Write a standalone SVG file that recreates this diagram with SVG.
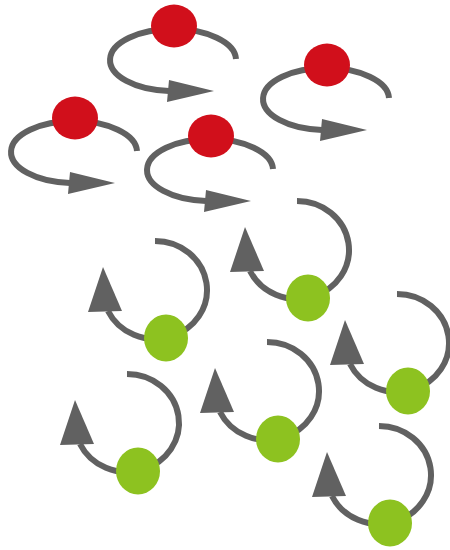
<svg xmlns="http://www.w3.org/2000/svg" xmlns:xlink="http://www.w3.org/1999/xlink" width="450" height="550" viewBox="0 0 450 550">
  <style>
    .arc { fill: none; stroke: #616161; stroke-width: 6; }
    .head { fill: #616161; }
    .red { fill: #d10f1b; }
    .green { fill: #8dc220; }
  </style>
  <defs>
    <g id="redUnit">
      <path class="arc" d="M 62 33 A 63 31 0 1 0 -5 65"/>
      <polygon class="head" points="-5,54 -7,76 40,65"/>
      <ellipse class="red" cx="0" cy="0" rx="23" ry="21.5"/>
    </g>
    <g id="greenUnit">
      <path class="arc" d="M -11 -97 A 52 49 0 1 1 -58 -27"/>
      <polygon class="head" points="-63,-71 -78,-26 -44,-27"/>
      <ellipse class="green" cx="0" cy="0" rx="22" ry="23.5"/>
    </g>
  </defs>
  <rect width="450" height="550" fill="#ffffff"/>
  <g id="red-1"><use xlink:href="#redUnit" href="#redUnit" x="174" y="26"/></g>
  <g id="red-2"><use xlink:href="#redUnit" href="#redUnit" x="327" y="65"/></g>
  <g id="red-3"><use xlink:href="#redUnit" href="#redUnit" x="75" y="118"/></g>
  <g id="red-4"><use xlink:href="#redUnit" href="#redUnit" x="211" y="136"/></g>
  <g id="green-1"><use xlink:href="#greenUnit" href="#greenUnit" x="308" y="298"/></g>
  <g id="green-2"><use xlink:href="#greenUnit" href="#greenUnit" x="166" y="338"/></g>
  <g id="green-3"><use xlink:href="#greenUnit" href="#greenUnit" x="408" y="391"/></g>
  <g id="green-4"><use xlink:href="#greenUnit" href="#greenUnit" x="278" y="439"/></g>
  <g id="green-5"><use xlink:href="#greenUnit" href="#greenUnit" x="138" y="471"/></g>
  <g id="green-6"><use xlink:href="#greenUnit" href="#greenUnit" x="390" y="523"/></g>
</svg>
